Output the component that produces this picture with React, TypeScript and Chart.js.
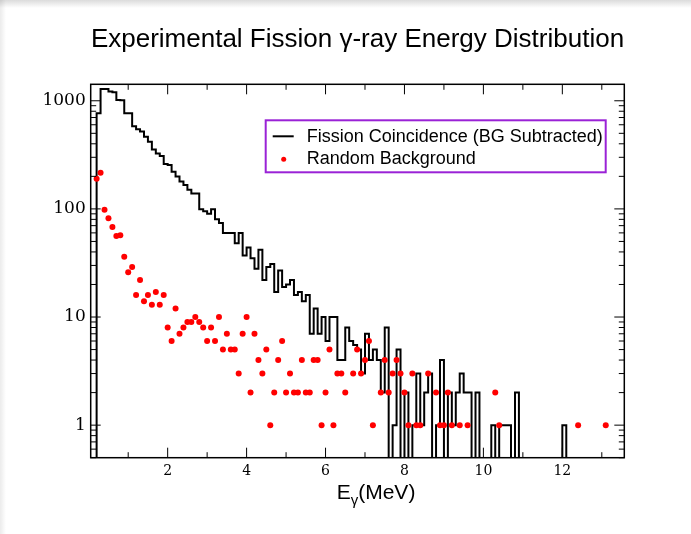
import React, { useEffect, useRef } from "react";
import { Chart, registerables } from "chart.js";

Chart.register(...registerables);

// ---------------- data ----------------
const chartTitle = "Experimental Fission \u03b3-ray Energy Distribution";
const histLabel = "Fission Coincidence (BG Subtracted)";
const bgLabel = "Random Background";

// histogram: first bin low edge (MeV), bin width (MeV), counts per bin
const histFirstEdge = 0.2;
const histBinWidth = 0.1;
const histCounts = [
  765, 1283, 1283, 1220, 1200, 1015, 1010, 765, 765, 580, // 0.2 - 1.1
  545, 520, 465, 418, 355, 326, 308, 260, 254, 221, // 1.2 - 2.1
  199, 179, 166, 150, 139, 139, 99, 95, 90, 99, // 2.2 - 3.1
  80, 74, 60, 60, 60, 48, 60, 37, 44, 35, // 3.2 - 4.1
  28, 42, 22, 29, 31, 17, 27, 19, 20, 22, // 4.2 - 5.1
  16, 17, 14, 16, 7, 12, 7, 10, 6, 10, // 5.2 - 6.1
  10, 4, 4, 8, 6, 5.5, 5, 3, 7, 4, // 6.2 - 7.1
  5, 4, 2, 8, 0, 1, 5, 0, 2, 0, // 7.2 - 8.1
  1, 3, 1, 2, 3, 0, 1, 4, 0, 2, // 8.2 - 9.1
  1, 2, 3, 2, 2, 0, 2, 0, 0, 0, // 9.2 - 10.1
  1, 0, 1, 1, 1, 0, 2, 0, 0, 0, // 10.2 - 11.1
  0, 0, 0, 0, 0, 0, 0, 0, 1, // 11.2 - 12.0
];

// random background points
const bgEnergy = [
  0.2, 0.3, 0.4, 0.5, 0.6, 0.7, 0.8, 0.9, 1.0, 1.1,
  1.2, 1.3, 1.4, 1.5, 1.6, 1.7, 1.8, 1.9, 2.0, 2.1,
  2.2, 2.3, 2.4, 2.5, 2.6, 2.7, 2.8, 2.9, 3.0, 3.1,
  3.2, 3.3, 3.4, 3.5, 3.6, 3.7, 3.8, 3.9, 4.0, 4.1,
  4.2, 4.3, 4.4, 4.5, 4.6, 4.7, 4.8, 4.9, 5.0, 5.1,
  5.2, 5.3, 5.4, 5.5, 5.6, 5.7, 5.8, 5.9, 6.0, 6.1,
  6.2, 6.3, 6.4, 6.5, 6.7, 6.8, 6.9, 7.0, 7.1, 7.2,
  7.4, 7.5, 7.6, 7.7, 7.8, 7.9, 8.0, 8.1, 8.2, 8.3,
  8.4, 8.6, 8.8, 8.9, 9.0, 9.1, 9.2, 9.4, 9.6, 10.3,
  10.4, 12.4, 13.1,
];
const bgCounts = [
  190, 216, 98, 82, 68, 56, 57, 36, 26, 29,
  16, 22, 14, 16, 13, 17, 13, 16, 8, 6,
  12, 7, 8, 9, 9, 10, 9, 8, 6, 8,
  6, 10, 5, 7, 5, 5, 3, 7, 10, 2,
  7, 4, 3, 5, 1, 2, 4, 6, 2, 3,
  2, 2, 4, 2, 2, 4, 4, 1, 2, 5,
  1, 3, 3, 2, 3, 5, 3, 4, 6, 1,
  2, 4, 2, 3, 4, 3, 2, 1, 3, 1,
  1, 3, 2, 1, 1, 2, 1, 1, 1, 2,
  1, 1, 1,
];

// axes
const xMin = 0.05;
const xMax = 13.57;
const yMin = 0.5;
const yMax = 1420;
const xMajorTicks = [2, 4, 6, 8, 10, 12];
const xMinorTicks = [1, 3, 5, 7, 9, 11, 13];
const yMajorTicks = [1, 10, 100, 1000];
const yMinorTicks = [
  0.5, 0.6, 0.7, 0.8, 0.9,
  2, 3, 4, 5, 6, 7, 8, 9,
  20, 30, 40, 50, 60, 70, 80, 90,
  200, 300, 400, 500, 600, 700, 800, 900,
];
const xTitleMain = "E";
const xTitleSub = "\u03b3";
const xTitleUnit = "(MeV)";

// value used to draw empty (zero-count) bins below the log axis
const EMPTY_LEVEL = 0.1;

const MAJOR_LEN = 10;
const MINOR_LEN = 5.5;
const LEGEND_COLOR = "#9a22d6";

const framePlugin = {
  id: "frameTicksLegend",
  afterDraw(chart: any) {
    const { ctx, chartArea: a, scales } = chart;
    const xs = scales.x;
    const ys = scales.y;
    ctx.save();

    // frame
    ctx.strokeStyle = "#000";
    ctx.lineWidth = 1.5;
    ctx.strokeRect(a.left, a.top, a.right - a.left, a.bottom - a.top);

    // inward ticks on all four sides
    ctx.lineWidth = 1;
    ctx.beginPath();
    const xTick = (v: number, len: number) => {
      const px = xs.getPixelForValue(v);
      ctx.moveTo(px, a.bottom);
      ctx.lineTo(px, a.bottom - len);
      ctx.moveTo(px, a.top);
      ctx.lineTo(px, a.top + len);
    };
    const yTick = (v: number, len: number) => {
      const py = ys.getPixelForValue(v);
      ctx.moveTo(a.left, py);
      ctx.lineTo(a.left + len, py);
      ctx.moveTo(a.right, py);
      ctx.lineTo(a.right - len, py);
    };
    xMajorTicks.forEach((v) => xTick(v, MAJOR_LEN));
    xMinorTicks.forEach((v) => xTick(v, MINOR_LEN));
    yMajorTicks.forEach((v) => yTick(v, MAJOR_LEN));
    yMinorTicks.forEach((v) => yTick(v, MINOR_LEN));
    ctx.stroke();

    // legend box
    const lx = a.left + 175;
    const ly = a.top + 36;
    const lw = 340;
    const lh = 52;
    ctx.strokeStyle = LEGEND_COLOR;
    ctx.lineWidth = 2;
    ctx.strokeRect(lx, ly, lw, lh);

    const ds = chart.data.datasets;
    ctx.font = "18px 'Liberation Sans', Arial, sans-serif";
    ctx.fillStyle = "#000";
    ctx.textAlign = "left";
    ctx.textBaseline = "alphabetic";
    // row 1: line sample
    ctx.strokeStyle = "#000";
    ctx.lineWidth = 2;
    ctx.beginPath();
    ctx.moveTo(lx + 7, ly + 16);
    ctx.lineTo(lx + 28, ly + 16);
    ctx.stroke();
    ctx.fillText(ds[1].label, lx + 41, ly + 22);
    // row 2: point sample
    ctx.fillStyle = "#ff0000";
    ctx.beginPath();
    ctx.arc(lx + 18, ly + 39, 2.5, 0, Math.PI * 2);
    ctx.fill();
    ctx.fillStyle = "#000";
    ctx.fillText(ds[0].label, lx + 41, ly + 44);

    // x axis title with subscript
    const by = a.bottom + 41;
    const mainFont = "21px 'Liberation Sans', Arial, sans-serif";
    const subFont = "15px 'Liberation Sans', Arial, sans-serif";
    let sx = a.left + 246;
    ctx.font = mainFont;
    const wE = ctx.measureText(xTitleMain).width;
    ctx.fillText(xTitleMain, sx, by);
    sx += wE;
    ctx.font = subFont;
    const wS = ctx.measureText(xTitleSub).width;
    ctx.fillText(xTitleSub, sx, by + 6);
    sx += wS;
    ctx.font = mainFont;
    ctx.fillText(xTitleUnit, sx, by);

    ctx.restore();
  },
};

export default function App() {
  const canvasRef = useRef<HTMLCanvasElement | null>(null);

  useEffect(() => {
    if (!canvasRef.current) return;

    const histPoints: { x: number; y: number }[] = [];
    histPoints.push({ x: histFirstEdge, y: EMPTY_LEVEL });
    histCounts.forEach((c, i) => {
      histPoints.push({
        x: histFirstEdge + i * histBinWidth,
        y: c > 0 ? c : EMPTY_LEVEL,
      });
    });
    const lastEdge = histFirstEdge + histCounts.length * histBinWidth;
    histPoints.push({ x: lastEdge, y: EMPTY_LEVEL });

    const bgPoints = bgEnergy.map((e, i) => ({ x: e, y: bgCounts[i] }));

    const chart = new Chart(canvasRef.current, {
      type: "line",
      data: {
        datasets: [
          {
            type: "scatter",
            label: bgLabel,
            data: bgPoints,
            showLine: false,
            pointRadius: 3,
            pointBackgroundColor: "#ff0000",
            pointBorderColor: "#ff0000",
            pointBorderWidth: 0,
            order: 1,
          } as any,
          {
            type: "line",
            label: histLabel,
            data: histPoints,
            stepped: "before",
            borderColor: "#000",
            borderWidth: 2,
            pointRadius: 0,
            fill: false,
            tension: 0,
            clip: 0,
            order: 2,
          } as any,
        ],
      },
      options: {
        responsive: false,
        animation: false,
        events: [],
        layout: { padding: { left: 0, right: 66.7, top: 0, bottom: 0 } },
        plugins: {
          legend: { display: false },
          tooltip: { enabled: false },
          title: {
            display: true,
            text: chartTitle,
            fullSize: false,
            color: "#000",
            font: { family: "'Liberation Sans', Arial, sans-serif", size: 26, weight: "normal", lineHeight: 1.2 },
            padding: { top: 24.4, bottom: 28.7 },
          },
        },
        scales: {
          x: {
            type: "linear",
            min: xMin,
            max: xMax,
            grid: { display: false, drawTicks: false },
            border: { display: false },
            afterBuildTicks: (s: any) => {
              s.ticks = xMajorTicks.map((v) => ({ value: v }));
            },
            afterFit: (s: any) => {
              s.height = 76.3;
            },
            ticks: {
              color: "#000",
              font: { family: "'DejaVu Serif', serif", size: 14 },
              padding: 5,
              maxRotation: 0,
              autoSkip: false,
              callback: (v: any) => String(v),
            },
          },
          y: {
            type: "logarithmic",
            min: yMin,
            max: yMax,
            grid: { display: false, drawTicks: false },
            border: { display: false },
            afterBuildTicks: (s: any) => {
              s.ticks = yMajorTicks.map((v) => ({ value: v }));
            },
            afterFit: (s: any) => {
              s.width = 90.7;
            },
            ticks: {
              color: "#000",
              font: { family: "'DejaVu Serif', serif", size: 17 },
              padding: 5,
              autoSkip: false,
              callback: (v: any) => String(v),
            },
          },
        },
      },
      plugins: [framePlugin],
    });

    return () => chart.destroy();
  }, []);

  return (
    <div
      style={{
        position: "absolute",
        left: 0,
        top: 0,
        width: 691,
        height: 534,
        background:
          "linear-gradient(to bottom, rgba(0,0,0,0.14), rgba(0,0,0,0) 8px), linear-gradient(to right, rgba(0,0,0,0.08), rgba(0,0,0,0) 6px), #fff",
      }}
    >
      <canvas ref={canvasRef} width={691} height={534} style={{ display: "block" }} />
    </div>
  );
}
